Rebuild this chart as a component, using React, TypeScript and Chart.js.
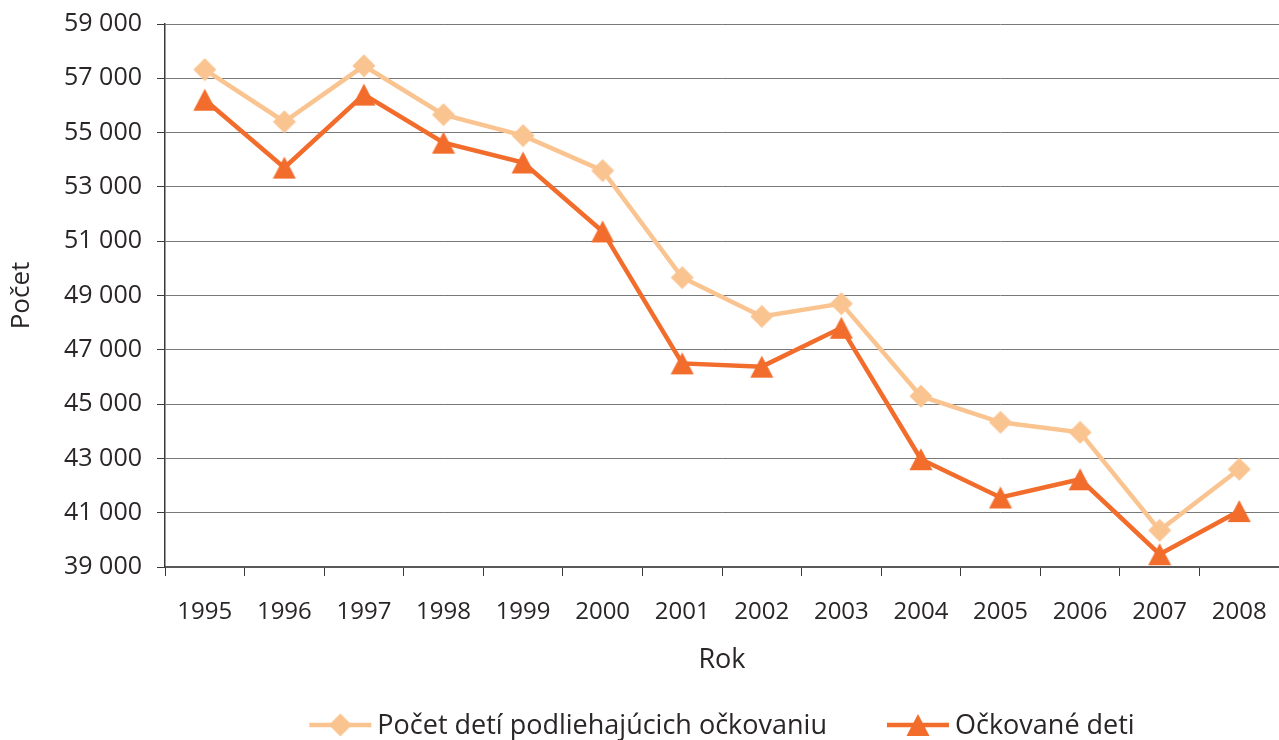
import React, { useEffect, useRef } from "react";
import { Chart, registerables } from "chart.js";

Chart.register(...registerables);

const years = ["1995", "1996", "1997", "1998", "1999", "2000", "2001", "2002", "2003", "2004", "2005", "2006", "2007", "2008"];
const subjectToVaccination = [57320, 55400, 57460, 55660, 54890, 53600, 49660, 48230, 48700, 45290, 44330, 43960, 40350, 42600];
const vaccinated = [56210, 53710, 56400, 54630, 53900, 51360, 46500, 46380, 47810, 42970, 41560, 42230, 39470, 41060];
const seriesNames = ["Počet detí podliehajúcich očkovaniu", "Očkované deti"];
const yMin = 39000;
const yMax = 59000;
const yStep = 2000;

const LIGHT = "#FAC491";
const DARK = "#F26C2C";
const TEXT = "#2a2627";
const FONT = "'Open Sans', 'Noto Sans', sans-serif";

function makeDiamond(color: string): HTMLCanvasElement {
  const c = document.createElement("canvas");
  c.width = 24;
  c.height = 24;
  const g = c.getContext("2d")!;
  g.fillStyle = color;
  g.beginPath();
  g.moveTo(12, 0.5);
  g.lineTo(23.5, 12);
  g.lineTo(12, 23.5);
  g.lineTo(0.5, 12);
  g.closePath();
  g.fill();
  return c;
}

function makeTriangle(color: string): HTMLCanvasElement {
  const c = document.createElement("canvas");
  c.width = 24;
  c.height = 24;
  const g = c.getContext("2d")!;
  g.fillStyle = color;
  g.beginPath();
  g.moveTo(12, 1);
  g.lineTo(23.5, 23);
  g.lineTo(0.5, 23);
  g.closePath();
  g.fill();
  return c;
}

const legendPlugin = {
  id: "lineLegend",
  afterDraw(chart: any) {
    const ctx = chart.ctx;
    const area = chart.chartArea;
    ctx.save();
    ctx.font = `27px ${FONT}`;
    ctx.textBaseline = "middle";
    ctx.textAlign = "left";
    const lineLen = 62;
    const gapText = 6;
    const gapItems = 60;
    const ds = chart.data.datasets;
    const widths = ds.map((d: any) => lineLen + gapText + ctx.measureText(d.label).width);
    const total = widths.reduce((a: number, b: number) => a + b, 0) + gapItems * (ds.length - 1);
    let x = (area.left + area.right) / 2 - total / 2;
    const y = 725;
    ds.forEach((d: any, i: number) => {
      ctx.strokeStyle = d.borderColor;
      ctx.lineWidth = d.borderWidth;
      ctx.beginPath();
      ctx.moveTo(x, y);
      ctx.lineTo(x + lineLen, y);
      ctx.stroke();
      const img = d.pointStyle as HTMLCanvasElement;
      ctx.drawImage(img, x + lineLen / 2 - img.width / 2, y - img.height / 2);
      ctx.fillStyle = TEXT;
      ctx.fillText(d.label, x + lineLen + gapText, y + 1);
      x += widths[i] + gapItems;
    });
    ctx.restore();
  },
};

export default function App() {
  const ref = useRef<HTMLCanvasElement | null>(null);

  useEffect(() => {
    document.body.style.margin = "0";
    const canvas = ref.current!;
    const chart = new Chart(canvas, {
      type: "line",
      data: {
        labels: years,
        datasets: [
          {
            label: seriesNames[0],
            data: subjectToVaccination,
            borderColor: LIGHT,
            backgroundColor: LIGHT,
            borderWidth: 4.5,
            pointStyle: makeDiamond(LIGHT) as any,
            pointRadius: 12,
            pointHoverRadius: 12,
            tension: 0,
          },
          {
            label: seriesNames[1],
            data: vaccinated,
            borderColor: DARK,
            backgroundColor: DARK,
            borderWidth: 4.5,
            pointStyle: makeTriangle(DARK) as any,
            pointRadius: 12,
            pointHoverRadius: 12,
            tension: 0,
          },
        ],
      },
      options: {
        responsive: false,
        animation: false,
        layout: { autoPadding: false, padding: { top: 24, left: 0, right: 0, bottom: 0 } },
        plugins: {
          legend: { display: false },
          tooltip: { enabled: false },
          title: { display: false },
        },
        scales: {
          x: {
            type: "category",
            offset: true,
            grid: {
              display: true,
              drawOnChartArea: false,
              drawTicks: true,
              tickLength: 9,
              tickColor: "#3a3a3a",
              offset: true,
            },
            border: { display: true, color: "#5a5a5a", width: 2 },
            ticks: {
              color: TEXT,
              font: { family: FONT, size: 24 },
              padding: 22,
              maxRotation: 0,
              autoSkip: false,
            },
            title: {
              display: true,
              text: "Rok",
              color: TEXT,
              font: { family: FONT, size: 27 },
              padding: { top: 0, bottom: 63 },
            },
            afterFit(scale: any) {
              scale.height = 173;
              scale.paddingLeft = 0;
              scale.paddingRight = 0;
            },
          },
          y: {
            min: yMin,
            max: yMax,
            grid: {
              color: "#787878",
              lineWidth: 1,
              tickLength: 8,
              tickColor: "#3a3a3a",
            },
            border: { display: true, color: "#3a3a3a", width: 1.5 },
            ticks: {
              stepSize: yStep,
              color: TEXT,
              font: { family: FONT, size: 25 },
              padding: 15,
              callback: (v: any) => `${Math.round(Number(v) / 1000)} 000`,
            },
            title: {
              display: true,
              text: "Počet",
              color: TEXT,
              font: { family: FONT, size: 26 },
              padding: { top: 6, bottom: 0 },
            },
            afterFit(scale: any) {
              scale.width = 165;
              scale.paddingTop = 0;
              scale.paddingBottom = 0;
            },
          },
        },
      },
      plugins: [legendPlugin],
    });
    return () => chart.destroy();
  }, []);

  return (
    <div style={{ position: "absolute", left: 0, top: 0, width: 1279, height: 740, background: "#fff" }}>
      <canvas ref={ref} width={1279} height={740} style={{ display: "block" }} />
    </div>
  );
}
